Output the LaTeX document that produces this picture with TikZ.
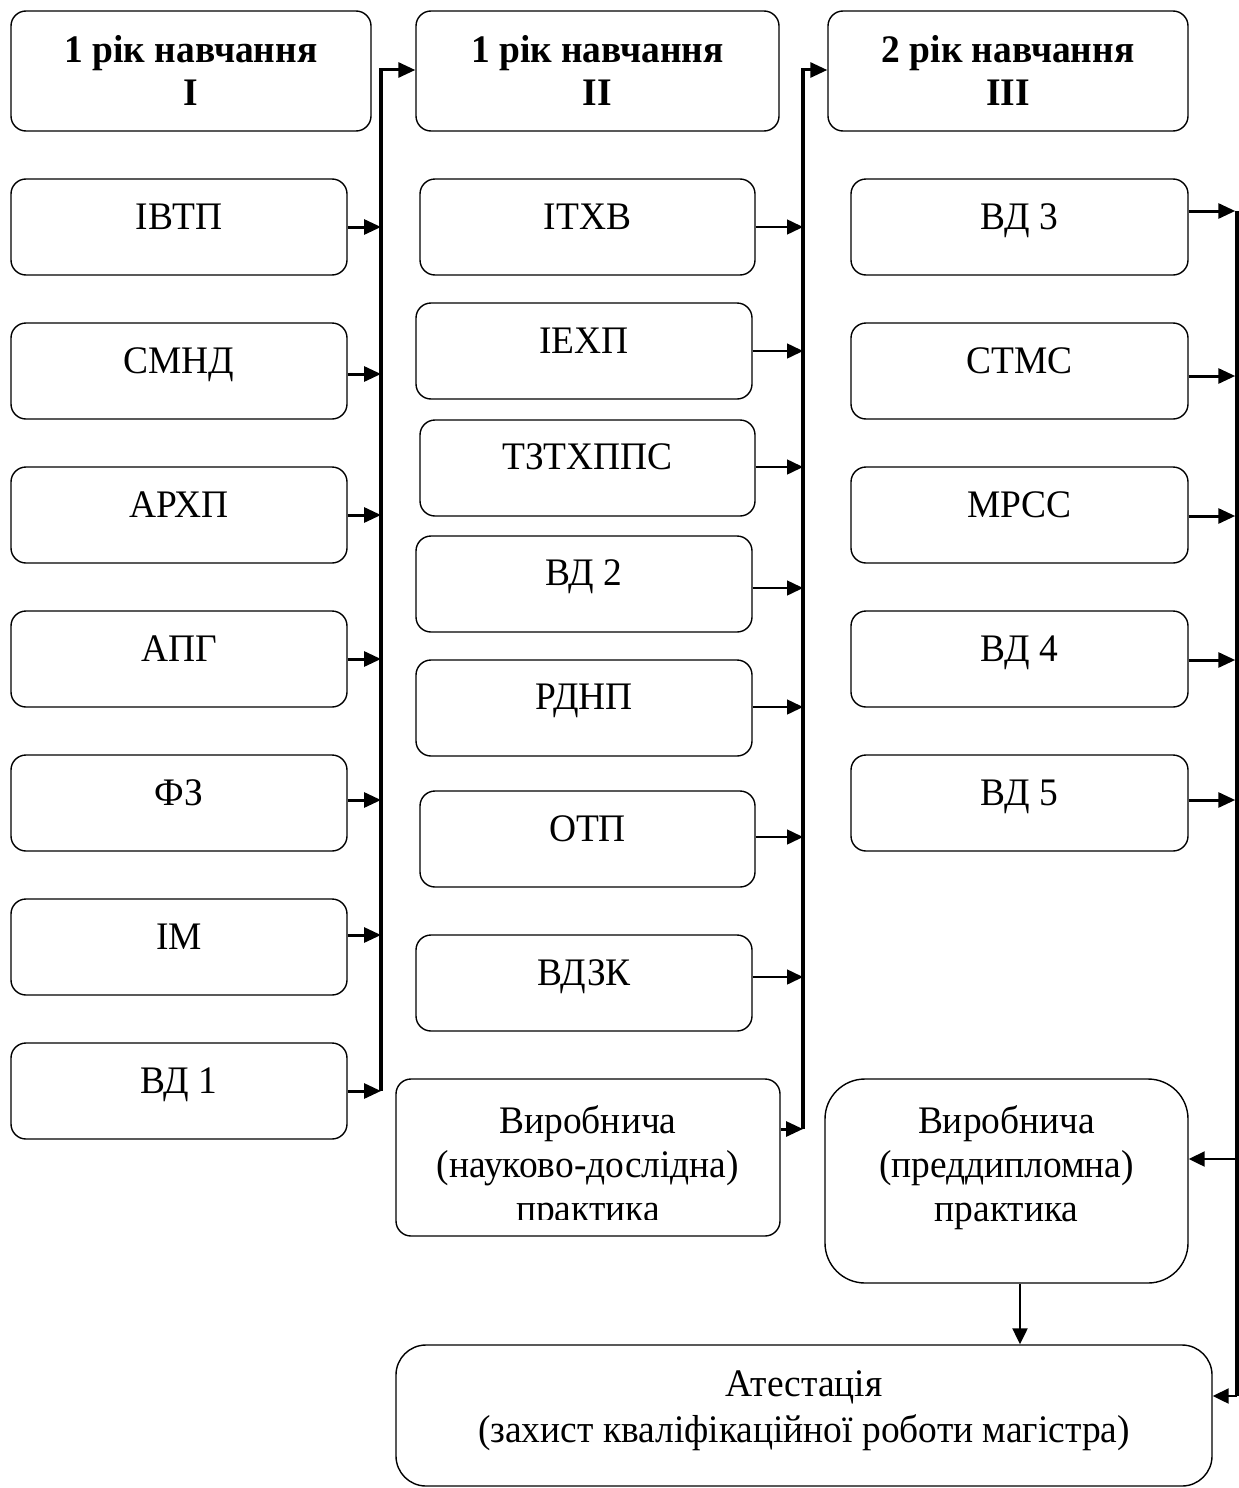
\documentclass[tikz,border=0pt]{standalone}
\usepackage{fontspec}
\setmainfont[FakeStretch=0.96]{Liberation Serif}
\usetikzlibrary{arrows.meta}
\begin{document}
\begin{tikzpicture}[x=1pt,y=-1pt,
  box/.style={draw, line width=1.4pt, rounded corners=15pt, inner sep=0pt},
  sbox/.style={box, minimum width=336pt, minimum height=96pt},
  hbox/.style={box, minimum width=360pt, minimum height=120pt},
  lbl/.style={anchor=base, inner sep=0pt, font=\fontsize{39pt}{44pt}\selectfont},
  hlbl/.style={lbl, font=\fontsize{39pt}{44pt}\selectfont\bfseries},
  bus/.style={line width=3.5pt},
  thick arr/.style={line width=3pt, -{Triangle[length=17pt,width=15pt]}},
  thin arr/.style={line width=1.5pt, -{Triangle[length=16pt,width=15pt]}},
  mid arr/.style={line width=2.2pt, -{Triangle[length=16pt,width=15pt]}}
]
\useasboundingbox (0,0) rectangle (1239,1488);

% headers
\node[hbox] (h1) at (191,71) {};
\node[hlbl] (h1a) at (191,63) {1 рік навчання};
\node[hlbl] (h1b) at (191,105) {I};
\node[hbox, minimum width=363pt] (h2) at (597.5,71) {};
\node[hlbl] (h2a) at (597.5,63) {1 рік навчання};
\node[hlbl] (h2b) at (597.5,105) {II};
\node[hbox] (h3) at (1008,71) {};
\node[hlbl] (h3a) at (1008,63) {2 рік навчання};
\node[hlbl] (h3b) at (1008,105) {III};

% column 1
\node[sbox] (a1) at (179,227) {};  \node[lbl] (a1t) at (179,229) {ІВТП};
\node[sbox] (a2) at (179,371) {};  \node[lbl] (a2t) at (179,373) {СМНД};
\node[sbox] (a3) at (179,515) {};  \node[lbl] (a3t) at (179,517) {АРХП};
\node[sbox] (a4) at (179,659) {};  \node[lbl] (a4t) at (179,661) {АПГ};
\node[sbox] (a5) at (179,803) {};  \node[lbl] (a5t) at (179,805) {ФЗ};
\node[sbox] (a6) at (179,947) {};  \node[lbl] (a6t) at (179,949) {ІМ};
\node[sbox] (a7) at (179,1091) {}; \node[lbl] (a7t) at (179,1093) {ВД 1};

% column 2
\node[sbox, minimum width=335pt] (b1) at (587.5,227) {}; \node[lbl] (b1t) at (587.5,229) {ІТХВ};
\node[sbox] (b2) at (584,351) {};   \node[lbl] (b2t) at (584,353) {ІЕХП};
\node[sbox, minimum width=335pt] (b3) at (587.5,468) {}; \node[lbl] (b3t) at (587.5,469) {ТЗТХППС};
\node[sbox] (b4) at (584,584) {};   \node[lbl] (b4t) at (584,585) {ВД 2};
\node[sbox] (b5) at (584,708) {};   \node[lbl] (b5t) at (584,709) {РДНП};
\node[sbox, minimum width=335pt] (b6) at (587.5,839) {}; \node[lbl] (b6t) at (587.5,841) {ОТП};
\node[sbox] (b7) at (584,983) {};   \node[lbl] (b7t) at (584,985) {ВДЗК};
\node[box, minimum width=384pt, minimum height=157pt] (b8) at (588,1157.5) {};
\node[lbl] (b8a) at (588,1133) {Виробнича};
\node[lbl] (b8b) at (588,1177) {(науково-дослідна)};
\begin{scope}
  \clip (396,1150) rectangle (780,1219);
  \node[lbl] (b8c) at (588,1221) {практика};
\end{scope}

% column 3
\node[sbox, minimum width=337pt] (c1) at (1019.5,227) {}; \node[lbl] (c1t) at (1019.5,229) {ВД 3};
\node[sbox, minimum width=337pt] (c2) at (1019.5,371) {}; \node[lbl] (c2t) at (1019.5,373) {СТМС};
\node[sbox, minimum width=337pt] (c3) at (1019.5,515) {}; \node[lbl] (c3t) at (1019.5,517) {МРСС};
\node[sbox, minimum width=337pt] (c4) at (1019.5,659) {}; \node[lbl] (c4t) at (1019.5,661) {ВД 4};
\node[sbox, minimum width=337pt] (c5) at (1019.5,803) {}; \node[lbl] (c5t) at (1019.5,805) {ВД 5};
\node[box, minimum width=363pt, minimum height=204pt, rounded corners=40pt] (c6) at (1006.5,1181) {};
\node[lbl] (c6a) at (1006.5,1133) {Виробнича};
\node[lbl] (c6b) at (1006.5,1177) {(преддипломна)};
\node[lbl] (c6c) at (1006.5,1221) {практика};

% attestation
\node[box, minimum width=816pt, minimum height=141pt, rounded corners=30pt] (d1) at (804,1415.5) {};
\node[lbl] (d1a) at (804,1396) {Атестація};
\node[lbl] (d1b) at (804,1442) {(захист кваліфікаційної роботи магістра)};

% buses
\coordinate (bus1top) at (381,70);
\coordinate (bus1bot) at (381,1091);
\coordinate (bus2top) at (803,70);
\coordinate (bus2bot) at (803,1129);
\coordinate (bus3top) at (1237,211);
\coordinate (bus3bot) at (1237,1396);
\draw[bus] (bus1top) -- (bus1bot);
\draw[bus] (bus2top) -- (bus2bot);
\draw[bus] (bus3top) -- (bus3bot);

% header arrows
\draw[thick arr] ([xshift=-1.75pt]bus1top) -- (bus1top -| h2.west);
\draw[thick arr] ([xshift=-1.75pt]bus2top) -- (bus2top -| h3.west);

% column 1 arrows
\foreach \n/\yy in {a1/227,a2/374,a3/515,a4/659,a5/800,a6/935,a7/1091}{
  \draw[thick arr] (\n.east |- 0,\yy) -- (bus1top |- 0,\yy);
}
% column 2 arrows
\foreach \n/\yy in {b1/227,b2/351,b3/467,b4/588,b5/707,b6/837,b7/977}{
  \draw[thin arr] (\n.east |- 0,\yy) -- (bus2top |- 0,\yy);
}
\draw[thick arr] (b8.east |- bus2bot) -- (bus2bot);
% column 3 arrows
\foreach \n/\yy in {c1/211,c2/376,c3/516,c4/660,c5/800}{
  \draw[thick arr] (\n.east |- 0,\yy) -- ([xshift=-1.75pt]bus3top |- 0,\yy);
}
\draw[mid arr] (bus3top |- 0,1159) -- (c6.east |- 0,1159);
\draw[mid arr] (bus3bot) -- (d1.east |- bus3bot);
\draw[mid arr] (c6.south -| 1020,0) -- (d1.north -| 1020,0);
\end{tikzpicture}
\end{document}
